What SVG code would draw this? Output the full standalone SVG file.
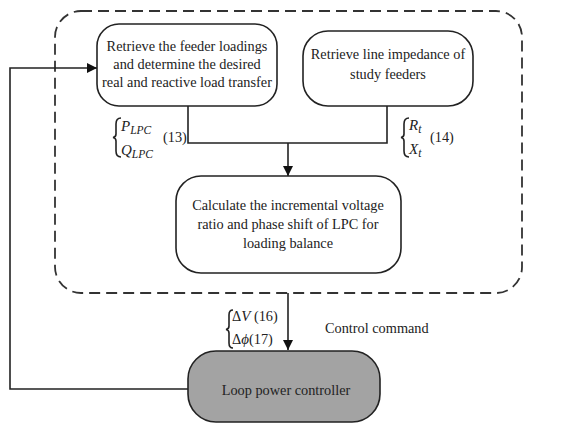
<svg xmlns="http://www.w3.org/2000/svg" width="561" height="426" viewBox="0 0 561 426">
<defs>
<marker id="arr" viewBox="0 0 10 10" refX="10" refY="5" markerWidth="10" markerHeight="10" markerUnits="userSpaceOnUse" orient="auto">
<path d="M0,0 L10,5 L0,10 z" fill="#111"/>
</marker>
<style>
.box{fill:#fff;stroke:#222;stroke-width:1.6}
.gray{fill:#a3a3a3;stroke:#222;stroke-width:1.6}
.dash{fill:none;stroke:#333;stroke-width:1.8;stroke-dasharray:11 6}
.ln{fill:none;stroke:#222;stroke-width:1.6}
text{font-family:"Liberation Serif","Times New Roman",serif;font-size:14.3px;fill:#222}
.c{text-anchor:middle}
.i{font-style:italic;font-size:15px}
.s{font-size:11.5px}
</style>
</defs>
<rect id="container" class="dash" x="55" y="11" width="467" height="282" rx="26"/>
<g id="connectors">
<polyline class="ln" points="188,106 188,143 387,143 387,106"/>
<line class="ln" x1="288" y1="143" x2="288" y2="176" marker-end="url(#arr)"/>
<line class="ln" x1="288" y1="293" x2="288" y2="350" marker-end="url(#arr)"/>
<polyline class="ln" points="188,389 10,389 10,68 97,68" marker-end="url(#arr)"/>
</g>
<g id="n1">
<rect class="box" x="97" y="24" width="180" height="82" rx="22"/>
<text class="c" x="187" y="51">Retrieve the feeder loadings</text>
<text class="c" x="187" y="69">and determine the desired</text>
<text class="c" x="187" y="87">real and reactive load transfer</text>
</g>
<g id="n2">
<rect class="box" x="303" y="31" width="170" height="75" rx="25"/>
<text class="c" x="388" y="59">Retrieve line impedance of</text>
<text class="c" x="388" y="79">study feeders</text>
</g>
<g id="n3">
<rect class="box" x="176" y="176" width="225" height="97" rx="25"/>
<text class="c" x="288" y="210">Calculate the incremental voltage</text>
<text class="c" x="288" y="229">ratio and phase shift of LPC for</text>
<text class="c" x="288" y="248">loading balance</text>
</g>
<g id="n4">
<rect class="gray" x="188" y="351" width="192" height="71" rx="28"/>
<text class="c" x="286" y="395">Loop power controller</text>
</g>
<g id="labels">
<path class="ln" d="M121,118 Q116,118 116,124 L116,134 Q116,137 113,137.5 Q116,138 116,141 L116,151 Q116,157 121,157" stroke-width="1"/>
<text class="i" x="121" y="131">P<tspan class="s" dy="3">LPC</tspan></text>
<text x="163" y="142">(13)</text>
<text class="i" x="121" y="155">Q<tspan class="s" dy="3">LPC</tspan></text>
<path class="ln" d="M409,118 Q404,118 404,124 L404,134 Q404,137 401,137.5 Q404,138 404,141 L404,151 Q404,157 409,157" stroke-width="1"/>
<text class="i" x="409" y="130">R<tspan class="s" dy="3">t</tspan></text>
<text x="430" y="142">(14)</text>
<text class="i" x="409" y="154">X<tspan class="s" dy="3">t</tspan></text>
<path class="ln" d="M233,310 Q229,310 229,315 L229,326 Q229,329 226,329.5 Q229,330 229,333 L229,343 Q229,348 233,348" stroke-width="1"/>
<text x="232" y="321">Δ<tspan class="i">V</tspan> (16)</text>
<text x="232" y="344">Δ<tspan class="i">ϕ</tspan>(17)</text>
<text x="325" y="333">Control command</text>
</g>
</svg>
